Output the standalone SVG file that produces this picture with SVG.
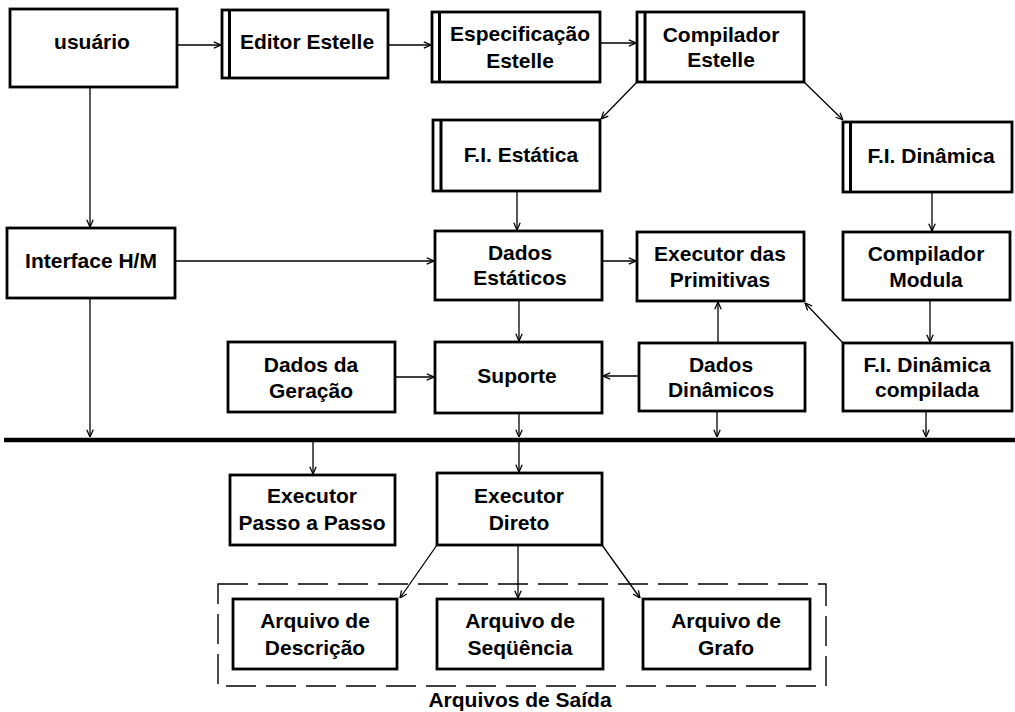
<svg xmlns="http://www.w3.org/2000/svg" width="1015" height="712" viewBox="0 0 1015 712">
  <style>
    .box { fill: #fff; stroke: #000; stroke-width: 2.8; }
    .bar { stroke: #000; stroke-width: 3; }
    .lbl { font-family: "Liberation Sans", Arial, sans-serif; font-weight: bold; font-size: 21px; text-anchor: middle; fill: #000; }
    .edge { stroke: #000; stroke-width: 1.3; fill: none; marker-end: url(#arr); }
    .bus { stroke: #000; stroke-width: 4.5; }
    .group { fill: none; stroke: #000; stroke-width: 1.4; stroke-dasharray: 30 10; }
  </style>
  <defs>
    <marker id="arr" viewBox="0 0 10 10" refX="10" refY="5" markerWidth="8" markerHeight="8" markerUnits="userSpaceOnUse" orient="auto">
      <path d="M1,1 L10,5 L1,9" fill="none" stroke="#000" stroke-width="1.6"/>
    </marker>
  </defs>
  <rect width="1015" height="712" fill="#fff"/>

  <!-- connectors -->
  <g id="connectors">
    <line class="edge" x1="177" y1="45" x2="221" y2="45"/>
    <line class="edge" x1="388" y1="45" x2="431" y2="45"/>
    <line class="edge" x1="600" y1="43" x2="636" y2="43"/>
    <line class="edge" x1="637" y1="82" x2="601" y2="119"/>
    <line class="edge" x1="804" y1="82" x2="843" y2="120"/>
    <line class="edge" x1="90" y1="87" x2="90" y2="227"/>
    <line class="edge" x1="517" y1="191" x2="517" y2="230"/>
    <line class="edge" x1="932" y1="192" x2="932" y2="231"/>
    <line class="edge" x1="175" y1="261" x2="434" y2="261"/>
    <line class="edge" x1="602" y1="261" x2="636" y2="261"/>
    <line class="edge" x1="519" y1="300" x2="519" y2="341"/>
    <line class="edge" x1="930" y1="300" x2="930" y2="342"/>
    <line class="edge" x1="843" y1="343" x2="805" y2="303"/>
    <line class="edge" x1="718" y1="343" x2="718" y2="302"/>
    <line class="edge" x1="639" y1="376" x2="603" y2="376"/>
    <line class="edge" x1="395" y1="377" x2="434" y2="377"/>
    <line class="edge" x1="90" y1="298" x2="90" y2="437"/>
    <line class="edge" x1="519" y1="413" x2="519" y2="437"/>
    <line class="edge" x1="717" y1="411" x2="717" y2="437"/>
    <line class="edge" x1="926" y1="411" x2="926" y2="437"/>
    <line class="edge" x1="313" y1="442" x2="313" y2="474"/>
    <line class="edge" x1="519" y1="442" x2="519" y2="472"/>
    <line class="edge" x1="437" y1="545" x2="400" y2="598"/>
    <line class="edge" x1="518" y1="545" x2="518" y2="598"/>
    <line class="edge" x1="602" y1="545" x2="640" y2="598"/>
    <line class="bus" x1="4" y1="440" x2="1015" y2="440"/>
  </g>

  <!-- top row -->
  <g id="usuario">
    <rect class="box" x="10" y="9" width="167" height="78"/>
    <text class="lbl" x="92" y="49">usuário</text>
  </g>
  <g id="editor-estelle">
    <rect class="box" x="222" y="10" width="166" height="68"/>
    <line class="bar" x1="229.5" y1="10" x2="229.5" y2="78"/>
    <text class="lbl" x="307" y="49">Editor Estelle</text>
  </g>
  <g id="especificacao-estelle">
    <rect class="box" x="432" y="12" width="168" height="70"/>
    <line class="bar" x1="439.5" y1="12" x2="439.5" y2="82"/>
    <text class="lbl" x="520" y="41">Especificação</text>
    <text class="lbl" x="520" y="68">Estelle</text>
  </g>
  <g id="compilador-estelle">
    <rect class="box" x="637" y="12" width="167" height="70"/>
    <line class="bar" x1="645" y1="12" x2="645" y2="82"/>
    <text class="lbl" x="721" y="42">Compilador</text>
    <text class="lbl" x="721" y="67">Estelle</text>
  </g>

  <!-- intermediate forms -->
  <g id="fi-estatica">
    <rect class="box" x="433" y="120" width="167" height="71"/>
    <line class="bar" x1="441" y1="120" x2="441" y2="191"/>
    <text class="lbl" x="521" y="162">F.I. Estática</text>
  </g>
  <g id="fi-dinamica">
    <rect class="box" x="843" y="122" width="169" height="70"/>
    <line class="bar" x1="850.5" y1="122" x2="850.5" y2="192"/>
    <text class="lbl" x="931" y="163">F.I. Dinâmica</text>
  </g>

  <!-- middle row -->
  <g id="interface-hm">
    <rect class="box" x="7" y="228" width="168" height="70"/>
    <text class="lbl" x="91" y="268">Interface H/M</text>
  </g>
  <g id="dados-estaticos">
    <rect class="box" x="435" y="231" width="167" height="69"/>
    <text class="lbl" x="520" y="260">Dados</text>
    <text class="lbl" x="520" y="285">Estáticos</text>
  </g>
  <g id="executor-primitivas">
    <rect class="box" x="637" y="232" width="167" height="69"/>
    <text class="lbl" x="720" y="261">Executor das</text>
    <text class="lbl" x="720" y="287">Primitivas</text>
  </g>
  <g id="compilador-modula">
    <rect class="box" x="843" y="232" width="167" height="68"/>
    <text class="lbl" x="926" y="261">Compilador</text>
    <text class="lbl" x="926" y="287">Modula</text>
  </g>

  <g id="dados-geracao">
    <rect class="box" x="228" y="342" width="167" height="70"/>
    <text class="lbl" x="311" y="372">Dados da</text>
    <text class="lbl" x="311" y="398">Geração</text>
  </g>
  <g id="suporte">
    <rect class="box" x="435" y="342" width="167" height="71"/>
    <text class="lbl" x="517" y="383">Suporte</text>
  </g>
  <g id="dados-dinamicos">
    <rect class="box" x="639" y="343" width="166" height="68"/>
    <text class="lbl" x="721" y="372">Dados</text>
    <text class="lbl" x="721" y="397">Dinâmicos</text>
  </g>
  <g id="fi-dinamica-compilada">
    <rect class="box" x="843" y="343" width="169" height="68"/>
    <text class="lbl" x="927" y="372">F.I. Dinâmica</text>
    <text class="lbl" x="927" y="397">compilada</text>
  </g>

  <!-- executors -->
  <g id="executor-passo">
    <rect class="box" x="230" y="475" width="165" height="70"/>
    <text class="lbl" x="312" y="503">Executor</text>
    <text class="lbl" x="312" y="530">Passo a Passo</text>
  </g>
  <g id="executor-direto">
    <rect class="box" x="437" y="473" width="165" height="72"/>
    <text class="lbl" x="519" y="503">Executor</text>
    <text class="lbl" x="519" y="530">Direto</text>
  </g>

  <!-- output files -->
  <g id="arquivos-saida">
    <rect class="group" x="218" y="584" width="608" height="102"/>
    <text class="lbl" x="520" y="707">Arquivos de Saída</text>
  </g>
  <g id="arquivo-descricao">
    <rect class="box" x="233" y="599" width="164" height="70"/>
    <text class="lbl" x="315" y="628">Arquivo de</text>
    <text class="lbl" x="315" y="655">Descrição</text>
  </g>
  <g id="arquivo-sequencia">
    <rect class="box" x="437" y="599" width="166" height="70"/>
    <text class="lbl" x="520" y="628">Arquivo de</text>
    <text class="lbl" x="520" y="655">Seqüência</text>
  </g>
  <g id="arquivo-grafo">
    <rect class="box" x="643" y="599" width="167" height="70"/>
    <text class="lbl" x="726" y="628">Arquivo de</text>
    <text class="lbl" x="726" y="655">Grafo</text>
  </g>
</svg>
